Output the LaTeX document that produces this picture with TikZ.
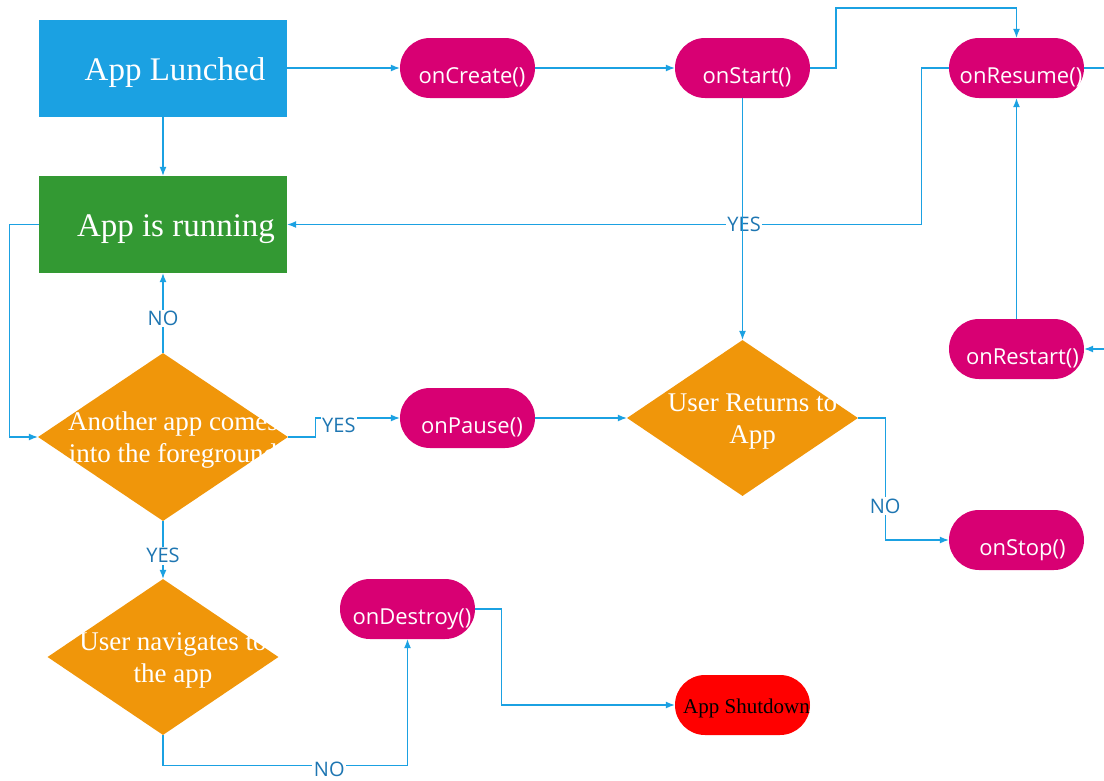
\documentclass[tikz,border=0pt]{standalone}
\usepackage{fontspec}
\setmainfont{Liberation Serif}
\newfontfamily\uifont{Open Sans}
\usetikzlibrary{arrows.meta,shapes.geometric}

\definecolor{linkblue}{RGB}{27,161,226}
\definecolor{labelblue}{RGB}{30,118,178}
\definecolor{launchblue}{RGB}{27,161,226}
\definecolor{rungreen}{RGB}{51,153,51}
\definecolor{callmagenta}{RGB}{216,0,115}
\definecolor{askorange}{RGB}{240,150,10}

\newcommand{\twolines}[2]{\makebox[0pt]{\hspace{20pt}\begin{tabular}{@{}c@{}}#1\\#2\end{tabular}}}

\begin{document}
\begin{tikzpicture}[x=1pt, y=-1pt, >={Latex[length=9pt,width=7pt]},
    block/.style={rectangle, minimum width=248pt, minimum height=97pt, inner sep=0pt, text=white, text height=24pt, text depth=0pt, font=\fontsize{33}{36}\selectfont},
    callback/.style={rectangle, rounded corners=30pt, fill=callmagenta, minimum width=135pt, minimum height=60pt, inner sep=0pt, text=white, text height=30pt, text depth=0pt, font=\uifont\fontsize{22}{26}\selectfont},
    decision/.style={diamond, fill=askorange, minimum width=231pt, minimum height=156pt, inner sep=0pt, text=white, text height=18pt, text depth=0pt, font=\fontsize{27}{32}\selectfont},
    flow/.style={draw=linkblue, line width=1.2pt, ->},
    answer/.style={fill=white, text=labelblue, inner sep=1.5pt, font=\uifont\fontsize{20}{22}\selectfont}]

\useasboundingbox (0,0) rectangle (1104,780);

% Boxes
\node[block, fill=launchblue] (launched) at (163,68) {\hspace{24pt}App Lunched};
\node[block, fill=rungreen] (running) at (163,224.5) {\hspace{26pt}App is running};

% Callbacks
\node[callback] (create) at (467.5,68) {\hspace{9pt}onCreate()};
\node[callback] (start) at (742.5,68) {\hspace{9pt}onStart()};
\node[callback] (resume) at (1016.5,68) {\hspace{9pt}onResume()};
\node[callback] (restart) at (1016.5,349) {\hspace{12pt}onRestart()};
\node[callback] (pause) at (467.5,418) {\hspace{9pt}onPause()};
\node[callback] (stop) at (1016.5,540) {\hspace{12pt}onStop()};
\node[callback] (destroy) at (407.5,609) {\hspace{9pt}onDestroy()};
\node[callback, fill=red, text=black, text height=16pt, font=\fontsize{21}{24}\selectfont] (shutdown) at (742.5,705) {\hspace{8pt}App Shutdown};

% Decisions
\node[decision, minimum width=250pt, minimum height=168pt] (another) at (163,437) {\twolines{Another app comes}{into the foreground}};
\node[decision] (returns) at (742.5,418) {\twolines{User Returns to}{App}};
\node[decision] (navigates) at (163,657) {\twolines{User navigates to}{the app}};

% Connectors
\coordinate (overtop) at (836,8);
\draw[flow] (launched) -- (create);
\draw[flow] (launched) -- (running);
\draw[flow] (create) -- (start);
\draw[flow] (start.east) -| (overtop) -| (resume.north);
\draw[flow] (resume.west) -- ++(-27,0) |- node[answer, pos=0.64] {YES} (running.east);
\draw[flow] (start) -- (returns);
\draw[flow] (resume.east) -- ++(46,0) |- (restart.east);
\draw[flow] (restart) -- (resume);
\draw[flow] (running.west) -- ++(-29,0) |- (another.west);
\draw[flow] (another) -- node[answer, pos=0.43] {NO} (running);
\draw[flow] (another.east) -- ++(27,0) |- node[answer, pos=0.64, yshift=-7.5pt] {YES} (pause.west);
\draw[flow] (another) -- node[answer, pos=0.6] {YES} (navigates);
\draw[flow] (pause) -- (returns);
\draw[flow] (returns.east) -- ++(27,0) |- node[answer, pos=0.36] {NO} (stop.west);
\draw[flow] (navigates.south) -- ++(0,30) -| node[answer, pos=0.34, yshift=-4pt] {NO} (destroy.south);
\draw[flow] (destroy.east) -- ++(26,0) |- (shutdown.west);

\end{tikzpicture}
\end{document}
